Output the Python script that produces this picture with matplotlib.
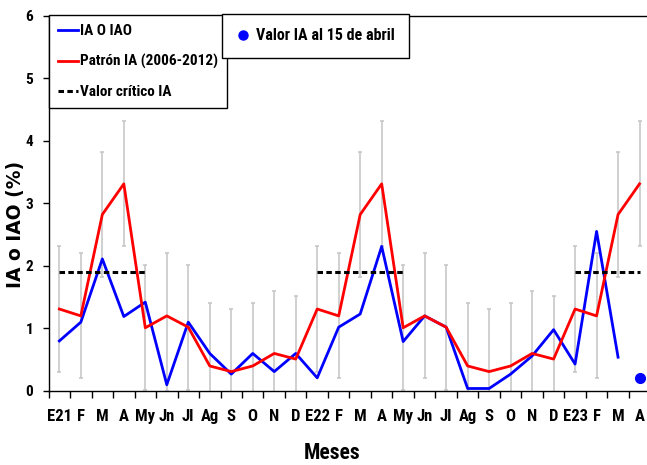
import numpy as np
import matplotlib
matplotlib.use("Agg")
import matplotlib.pyplot as plt
from matplotlib.lines import Line2D
from matplotlib import font_manager as fm

nan = np.nan
months = ["E21", "F", "M", "A", "My", "Jn", "Jl", "Ag", "S", "O", "N", "D",
          "E22", "F", "M", "A", "My", "Jn", "Jl", "Ag", "S", "O", "N", "D",
          "E23", "F", "M", "A"]
ia_iao = [0.80, 1.10, 2.11, 1.19, 1.42, 0.10, 1.10, 0.60, 0.27, 0.60, 0.31, 0.60,
          0.21, 1.02, 1.23, 2.31, 0.79, 1.20, 1.02, 0.04, 0.04, 0.27, 0.56, 0.98,
          0.43, 2.55, 0.54, nan]
patron = [1.31, 1.20, 2.82, 3.31, 1.01, 1.20, 1.02, 0.40, 0.31, 0.40, 0.60, 0.51,
          1.31, 1.20, 2.82, 3.31, 1.01, 1.20, 1.02, 0.40, 0.31, 0.40, 0.60, 0.51,
          1.31, 1.20, 2.82, 3.31]
err_up = [1.0] * 28
err_low = [1.0, 1.0, 1.0, 1.0, 1.0, 1.2, 1.0, 1.0, 1.0, 1.0, 1.0, 1.0,
           1.0, 1.0, 1.0, 1.0, 1.0, 1.0, 1.0, 1.0, 1.0, 1.0, 1.0, 1.0,
           1.0, 1.0, 1.0, 1.0]
critico = [1.9, 1.9, 1.9, 1.9, 1.9, nan, nan, nan, nan, nan, nan, nan,
           1.9, 1.9, 1.9, 1.9, 1.9, nan, nan, nan, nan, nan, nan, nan,
           1.9, 1.9, 1.9, 1.9]
abril = [nan] * 27 + [0.2]
yticks = [0, 1, 2, 3, 4, 5, 6]


# ---- pick a bold condensed font if one is installed ----
def _wt(w):
    try:
        return int(w)
    except Exception:
        return {"bold": 700, "heavy": 800, "black": 900, "semibold": 600,
                "demibold": 600}.get(str(w).lower(), 400)


def pick_condensed():
    prefs = ["liberation sans narrow", "roboto condensed", "dejavu sans",
             "open sans condensed", "noto sans", "open sans", "inter"]
    cands = []
    for f in fm.fontManager.ttflist:
        nm = f.name.lower()
        st = str(f.stretch).lower()
        cond = ("narrow" in nm or "condensed" in nm or "condensed" in st
                or "narrow" in st or "condensed" in f.fname.lower())
        if cond and f.style == "normal" and _wt(f.weight) >= 600:
            rank = len(prefs)
            for i, p in enumerate(prefs):
                if nm.startswith(p):
                    rank = i
                    break
            cands.append((rank, abs(_wt(f.weight) - 700), f.fname))
    if cands:
        cands.sort()
        return fm.FontProperties(fname=cands[0][2]), True
    return fm.FontProperties(family="Roboto", weight="bold"), False


base_fp, is_cond = pick_condensed()
scale = 1.0 if is_cond else 0.86


def fp(size):
    p = base_fp.copy()
    p.set_size(size * scale)
    if not is_cond:
        p.set_weight("bold")
    return p


W, H = 647, 465
fig = plt.figure(figsize=(W / 100, H / 100), dpi=100)
ax = fig.add_axes([48.6 / W, 1 - 391 / H, (650.3 - 48.6) / W, (391 - 15.5) / H])

x = np.arange(len(months))
ax.errorbar(x, patron, yerr=[err_low, err_up], fmt="none", ecolor="#c4c4c4",
            elinewidth=1.1, capsize=1.5, capthick=1.1, zorder=1)
ax.plot(x, ia_iao, color="#0000ff", lw=2.0, zorder=3, label="IA O IAO")
ax.plot(x, patron, color="#ff0000", lw=2.0, zorder=4, label="Patrón IA (2006-2012)")
ax.plot(x, critico, color="black", lw=2.2, dashes=(1.8, 1.1), zorder=5,
        label="Valor crítico IA")
ax.plot(x, abril, "o", color="#0000ff", ms=7, zorder=6, clip_on=False,
        label="Valor IA al 15 de abril")

ax.set_xlim(-0.5, len(months) - 0.5)
ax.set_ylim(0, 6)
ax.set_yticks(yticks)
ax.set_yticklabels([str(v) for v in yticks], fontproperties=fp(11))
ax.set_xticks(x)
ax.set_xticklabels(months, fontproperties=fp(12))
ax.set_xticks(np.arange(-0.5, len(months), 1), minor=True)
ax.tick_params(axis="x", which="major", length=0, pad=13)
ax.tick_params(axis="x", which="minor", length=5, width=1, direction="out")
ax.tick_params(axis="y", length=4, width=1, direction="out", pad=7)
for s in ax.spines.values():
    s.set_linewidth(1.0)
    s.set_color("black")

fig.text(16 / W, 1 - 224 / H, "IA o IAO (%)", rotation=90, ha="center",
         va="center", family="DejaVu Sans", fontweight="bold", fontsize=13.5)
fig.text(332 / W, 1 - 453 / H, "Meses", ha="center", va="center",
         fontproperties=fp(15.5))

h1 = [Line2D([], [], color="#0000ff", lw=2.0),
      Line2D([], [], color="#ff0000", lw=2.0),
      Line2D([], [], color="black", lw=2.2, dashes=(1.8, 1.1))]
l1 = ["IA O IAO", "Patrón IA (2006-2012)", "Valor crítico IA"]
leg1 = fig.legend(h1, l1, loc="upper left", bbox_to_anchor=(49 / W, 1 - 15 / H),
                  bbox_transform=fig.transFigure, borderaxespad=0,
                  prop=fp(11),
                  fancybox=False, framealpha=1, edgecolor="black",
                  borderpad=0.6, labelspacing=1.05, handlelength=1.3,
                  handletextpad=0.12)
leg1.get_frame().set_linewidth(1.0)

h2 = [Line2D([], [], color="#0000ff", marker="o", ls="none", ms=6.5)]
leg2 = fig.legend(h2, ["Valor IA al 15 de abril"], loc="upper left",
                  bbox_to_anchor=(222 / W, 1 - 14 / H),
                  bbox_transform=fig.transFigure, borderaxespad=0,
                  prop=fp(11.5),
                  fancybox=False, framealpha=1, edgecolor="black",
                  borderpad=0.9, handlelength=0.8, handletextpad=0.4)
leg2.get_frame().set_linewidth(1.0)

fig.savefig("out.png", dpi=100)
